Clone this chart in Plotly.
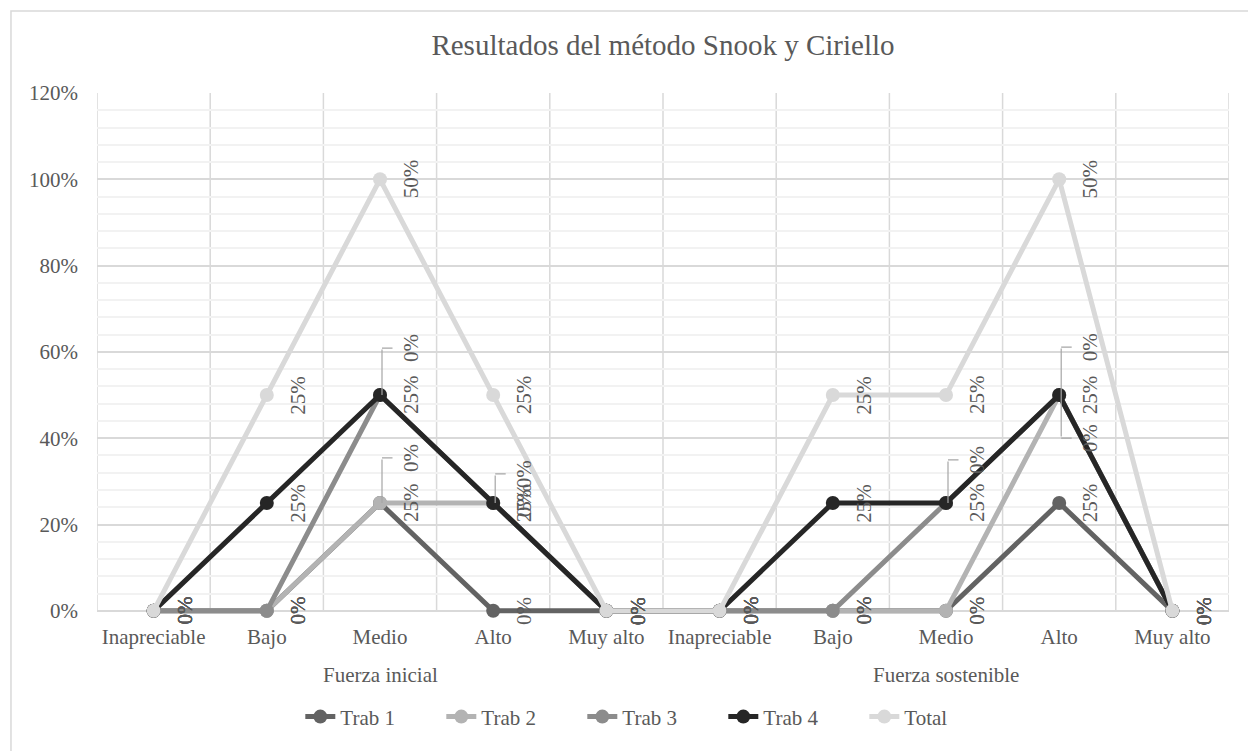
import plotly.graph_objects as go
import numpy as np

# ---------------- data ----------------
categories = ["Inapreciable", "Bajo", "Medio", "Alto", "Muy alto",
              "Inapreciable", "Bajo", "Medio", "Alto", "Muy alto"]
groups = ["Fuerza inicial", "Fuerza sostenible"]
series_names = ["Trab 1", "Trab 2", "Trab 3", "Trab 4", "Total"]
trab1 = [0, 0, 0.25, 0, 0, 0, 0, 0, 0.25, 0]
trab2 = [0, 0, 0, 0.25, 0, 0, 0, 0, 0.25, 0]
trab3 = [0, 0, 0.25, 0, 0, 0, 0, 0.25, 0, 0]
trab4 = [0, 0.25, 0, 0, 0, 0, 0.25, 0, 0, 0]
total = [0, 0.25, 0.5, 0.25, 0, 0, 0.25, 0.25, 0.5, 0]
y_ticks = [0, 0.2, 0.4, 0.6, 0.8, 1.0, 1.2]

# ---------------- style ----------------
colors = ["#636363", "#B3B3B3", "#8C8C8C", "#262626", "#D9D9D9"]
FONT = "Liberation Serif"
TXT = "#595959"
FS = 21
# data labels moved by Excel (series index, point index) -> vertical px offset
leader_offsets = {(1, 2): 45, (3, 2): 47, (3, 3): 29, (3, 7): 43, (3, 8): 48, (2, 8): -43}
LABEL_DX = 31

values = np.array([trab1, trab2, trab3, trab4, total])
stacked = np.cumsum(values, axis=0)  # stacked line chart
x = np.arange(len(categories))

fig = go.Figure()
for i, name in enumerate(series_names):
    fig.add_trace(go.Scatter(
        x=x, y=stacked[i], name=name, mode="lines+markers",
        line=dict(color=colors[i], width=5),
        marker=dict(color=colors[i], size=14),
        cliponaxis=False,
    ))

annotations = []
for i, name in enumerate(series_names):
    for j in range(len(categories)):
        dy = leader_offsets.get((i, j), 0)
        annotations.append(dict(
            x=x[j], y=stacked[i][j], xref="x", yref="y",
            text=f"{values[i][j]*100:.0f}%", showarrow=False, textangle=-90,
            xshift=LABEL_DX, yshift=dy,
            font=dict(family=FONT, size=FS, color=TXT),
        ))
        if dy:
            # elbow leader line: vertical then horizontal
            annotations.append(dict(
                x=x[j], y=stacked[i][j], xref="x", yref="y", text="",
                showarrow=True, arrowhead=0, arrowwidth=1.2, arrowcolor="#A6A6A6",
                ax=0, ay=-dy, xshift=2, standoff=0, startstandoff=0,
            ))
            annotations.append(dict(
                x=x[j], y=stacked[i][j], xref="x", yref="y", text="",
                showarrow=True, arrowhead=0, arrowwidth=1.2, arrowcolor="#A6A6A6",
                ax=12, ay=0, xshift=2, yshift=dy, standoff=0, startstandoff=0,
            ))

n_per_group = len(categories) // len(groups)
for g, gname in enumerate(groups):
    annotations.append(dict(
        x=g * n_per_group + (n_per_group - 1) / 2, y=0, xref="x", yref="paper",
        yanchor="middle", yshift=-59, text=gname, showarrow=False,
        font=dict(family=FONT, size=FS, color=TXT),
    ))

shapes = []
for k in range(len(categories) + 1):
    shapes.append(dict(type="line", xref="x", yref="y", x0=k - 0.5, x1=k - 0.5,
                       y0=0, y1=y_ticks[-1], layer="below",
                       line=dict(color="#D9D9D9", width=1.5)))
# chart border
shapes.append(dict(type="rect", xref="paper", yref="paper",
                   x0=-0.076, x1=1.05, y0=-0.35, y1=1.157,
                   line=dict(color="#D9D9D9", width=1.5), layer="below"))

fig.update_layout(
    width=1248, height=751,
    margin=dict(l=97, r=19, t=93, b=135),
    paper_bgcolor="white", plot_bgcolor="white",
    font=dict(family=FONT, size=FS, color=TXT),
    title=dict(text="Resultados del método Snook y Ciriello", x=0.5, xref="paper",
               y=1 - 45 / 751, yref="container", yanchor="middle",
               font=dict(family=FONT, size=29, color=TXT)),
    xaxis=dict(range=[-0.5, len(categories) - 0.5], tickmode="array",
               tickvals=list(x), ticktext=categories, showgrid=False,
               zeroline=False, showline=False, ticks="", ticklabelstandoff=6,
               tickfont=dict(family=FONT, size=FS, color=TXT)),
    yaxis=dict(range=[-0.012, y_ticks[-1]], tickmode="array", tickvals=y_ticks,
               tickformat=".0%", showgrid=True, gridcolor="#D9D9D9", gridwidth=1.5,
               zeroline=False, showline=False, ticks="", ticklabelstandoff=18,
               minor=dict(tickmode="linear", tick0=0, dtick=0.04, showgrid=True,
                          gridcolor="#F2F2F2", gridwidth=1.5),
               tickfont=dict(family=FONT, size=FS, color=TXT)),
    legend=dict(orientation="h", x=0.491, xanchor="center", y=-0.193,
                yanchor="middle", font=dict(family=FONT, size=FS, color=TXT),
                bgcolor="rgba(0,0,0,0)", entrywidth=96),
    annotations=annotations,
    shapes=shapes,
    showlegend=True,
)

fig.write_html("out.html", config={"displayModeBar": False},
               post_script="document.body.style.margin='0';")
